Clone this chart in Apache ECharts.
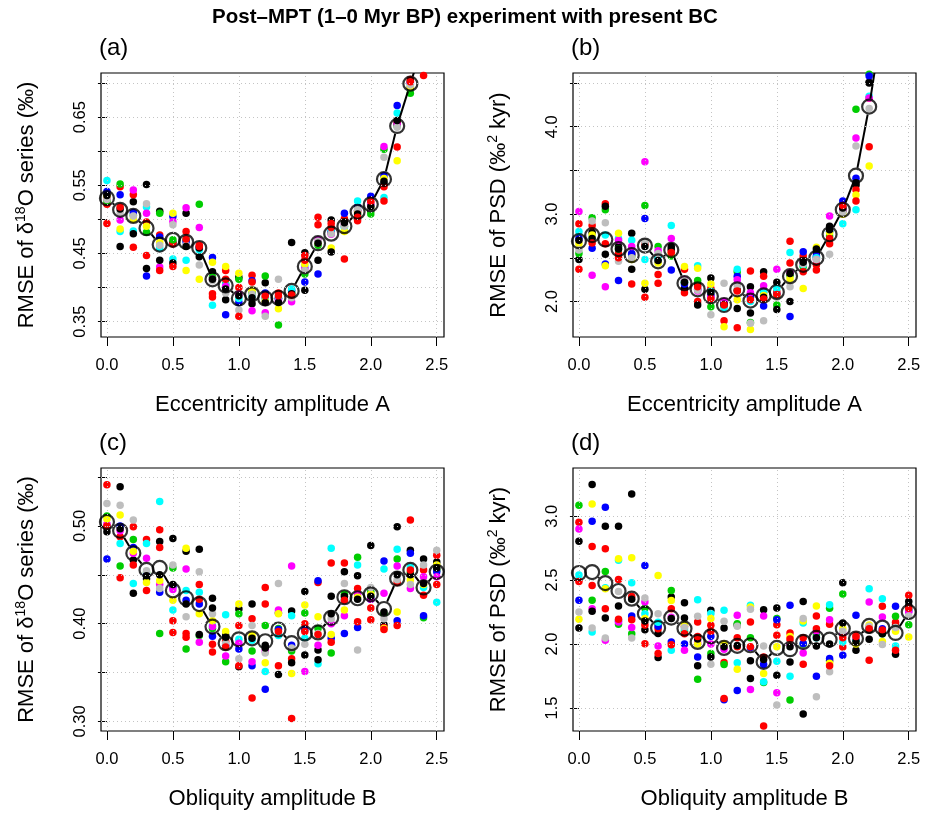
<!DOCTYPE html>
<html><head><meta charset="utf-8">
<script src="https://cdn.jsdelivr.net/npm/echarts@6/dist/echarts.min.js"></script>
<style>html,body{margin:0;padding:0;background:#fff}#c{width:930px;height:816px}</style>
</head><body><div id="c"></div>
<script>
// ---------------- data ----------------
const amplitudes = [0.0,0.1,0.2,0.3,0.4,0.5,0.6,0.7,0.8,0.9,1.0,1.1,1.2,1.3,1.4,1.5,1.6,1.7,1.8,1.9,2.0,2.1,2.2,2.3,2.4,2.5];
const xTicks = [0,0.5,1.0,1.5,2.0,2.5];

// Panel (a): RMSE of d18O series vs eccentricity amplitude
const aBlack1 = [0.537,0.460,0.526,0.551,0.512,0.466,0.509,0.445,0.423,0.382,0.415,0.376,0.407,0.384,0.466,0.451,0.440,0.499,0.497,0.513,0.513,0.552,0.640,0.693,0.77,0.85];
const aRed1   = [0.522,0.548,0.536,0.496,0.477,0.464,0.482,0.462,0.391,0.425,0.400,0.418,0.385,0.392,0.389,0.447,0.503,0.494,0.501,0.498,0.524,0.548,0.643,0.705,0.711,0.84];
const aGreen  = [0.527,0.552,0.506,0.481,0.509,0.470,0.470,0.522,0.415,0.405,0.412,0.392,0.417,0.345,0.393,0.420,0.462,0.480,0.490,0.505,0.508,0.603,0.637,0.685,0.76,0.83];
const aBlue   = [0.541,0.536,0.510,0.417,0.474,0.504,0.467,0.458,0.444,0.360,0.378,0.410,0.392,0.384,0.396,0.408,0.420,0.482,0.509,0.518,0.534,0.564,0.667,0.700,0.78,0.86];
const aCyan   = [0.557,0.482,0.483,0.518,0.458,0.442,0.440,0.455,0.374,0.404,0.384,0.388,0.384,0.386,0.398,0.430,0.465,0.485,0.488,0.527,0.520,0.532,0.656,0.698,0.76,0.84];
const aMagenta= [0.531,0.499,0.543,0.509,0.430,0.497,0.517,0.488,0.412,0.402,0.390,0.366,0.363,0.380,0.379,0.428,0.470,0.478,0.492,0.512,0.521,0.607,0.640,0.700,0.77,0.85];
const aYellow = [0.533,0.486,0.500,0.490,0.466,0.509,0.425,0.412,0.437,0.431,0.421,0.396,0.380,0.369,0.388,0.434,0.465,0.458,0.482,0.510,0.517,0.560,0.586,0.695,0.74,0.82];
const aGray   = [0.529,0.510,0.505,0.523,0.462,0.492,0.462,0.433,0.410,0.392,0.367,0.390,0.358,0.412,0.385,0.425,0.468,0.479,0.490,0.515,0.516,0.591,0.635,0.697,0.76,0.84];
const aBlack2 = [0.535,0.515,0.479,0.428,0.440,0.436,0.460,0.458,0.412,0.398,0.388,0.385,0.378,0.378,0.391,0.396,0.465,0.452,0.495,0.508,0.519,0.556,0.645,0.703,0.77,0.85];
const aRed2   = [0.494,0.518,0.459,0.447,0.425,0.431,0.471,0.460,0.386,0.412,0.358,0.408,0.388,0.388,0.389,0.440,0.492,0.488,0.442,0.503,0.527,0.527,0.606,0.702,0.75,0.83];
const aMean   = [0.531,0.514,0.505,0.487,0.463,0.470,0.467,0.458,0.412,0.403,0.384,0.390,0.384,0.385,0.395,0.431,0.465,0.479,0.490,0.511,0.522,0.559,0.637,0.699,0.76,0.84];
const aYTicks = [0.35,0.40,0.45,0.50,0.55,0.60,0.65,0.70];
const aYLabels = [0.35,0.45,0.55,0.65];

// Panel (b): RMSE of PSD vs eccentricity amplitude
const bBlack1 = [2.48,2.79,2.54,2.63,2.78,2.14,2.50,2.63,2.15,2.19,2.27,1.95,2.13,2.17,2.34,2.22,2.00,2.47,2.56,2.86,3.05,3.33,4.51,5.3,6.4,7.6];
const bRed1   = [2.89,2.87,3.12,2.55,2.54,2.66,2.31,2.58,2.37,2.00,2.15,1.78,1.70,2.35,2.29,2.11,2.69,2.52,2.42,2.66,3.08,3.28,4.33,5.1,6.2,7.4];
const bGreen  = [2.55,2.96,3.05,2.60,2.52,3.10,2.63,2.52,2.22,2.24,1.94,1.99,2.34,1.76,2.10,1.96,2.30,2.40,2.50,2.75,3.03,4.20,4.60,5.4,6.5,7.7];
const bBlue   = [2.72,2.61,2.43,2.24,2.55,2.95,2.46,2.36,2.20,2.14,2.07,1.98,2.29,2.05,1.95,2.08,1.83,2.57,2.52,2.80,3.15,3.41,4.58,5.3,6.3,7.5];
const bCyan   = [2.80,2.74,2.76,2.72,2.70,2.48,2.49,2.87,2.23,2.41,2.12,1.93,2.37,2.00,2.12,2.15,2.56,2.42,2.50,2.80,2.89,3.05,4.35,5.1,6.2,7.4];
const bMagenta= [3.03,2.30,2.17,2.70,2.63,3.60,2.58,2.72,2.25,2.12,2.05,2.00,2.25,2.10,2.18,2.37,2.33,2.44,2.48,2.98,3.04,3.87,4.33,5.2,6.3,7.5];
const bYellow = [2.66,2.76,2.41,2.78,2.48,2.21,2.44,2.55,2.40,2.38,2.20,1.71,2.02,1.68,2.07,2.06,2.26,2.15,2.62,2.79,3.00,3.22,3.55,4.8,5.9,7.0];
const bGray   = [2.59,2.92,2.90,2.46,2.50,2.68,2.55,2.58,2.24,2.13,1.85,2.21,2.18,1.75,1.78,2.05,2.17,2.43,2.48,2.54,3.02,3.78,4.21,5.2,6.3,7.5];
const bBlack2 = [2.70,2.72,3.09,2.60,2.37,2.63,2.47,2.60,2.22,1.96,2.10,1.97,1.92,1.87,2.05,1.91,2.32,2.45,2.60,2.82,3.07,3.36,4.50,5.3,6.4,7.6];
const bRed2   = [2.37,2.67,2.66,2.50,2.20,2.05,2.21,2.56,2.10,2.17,2.03,1.96,2.12,2.02,2.03,2.08,2.44,2.34,2.36,2.72,3.10,3.15,3.77,5.0,6.1,7.2];
const bMean   = [2.69,2.76,2.71,2.60,2.53,2.64,2.46,2.59,2.21,2.14,2.06,1.96,2.14,2.01,2.07,2.11,2.29,2.42,2.50,2.77,3.05,3.44,4.23,5.2,6.3,7.5];
const bYTicks = [2.0,2.5,3.0,3.5,4.0,4.5];
const bYLabels = [2.0,3.0,4.0];

// Panel (c): RMSE of d18O series vs obliquity amplitude
const cBlack1 = [0.494,0.540,0.465,0.446,0.484,0.487,0.474,0.476,0.426,0.388,0.415,0.420,0.378,0.411,0.413,0.433,0.373,0.428,0.453,0.449,0.480,0.399,0.499,0.475,0.466,0.463];
const cRed1   = [0.542,0.489,0.499,0.486,0.496,0.403,0.390,0.440,0.379,0.382,0.398,0.405,0.437,0.357,0.364,0.400,0.442,0.462,0.462,0.436,0.416,0.396,0.442,0.506,0.455,0.470];
const cGreen  = [0.510,0.459,0.486,0.452,0.390,0.457,0.374,0.388,0.395,0.361,0.410,0.372,0.398,0.395,0.372,0.411,0.395,0.370,0.430,0.468,0.433,0.410,0.466,0.452,0.406,0.455];
const cBlue   = [0.466,0.500,0.478,0.450,0.432,0.438,0.424,0.420,0.387,0.378,0.374,0.357,0.333,0.394,0.378,0.394,0.444,0.385,0.390,0.396,0.425,0.464,0.403,0.472,0.408,0.453];
const cCyan   = [0.500,0.482,0.441,0.482,0.525,0.414,0.434,0.432,0.398,0.409,0.384,0.383,0.351,0.388,0.408,0.385,0.359,0.477,0.425,0.460,0.428,0.456,0.476,0.458,0.437,0.422];
const cMagenta= [0.502,0.495,0.472,0.467,0.440,0.435,0.456,0.381,0.397,0.367,0.380,0.361,0.372,0.414,0.459,0.351,0.378,0.400,0.408,0.430,0.425,0.431,0.459,0.436,0.448,0.448];
const cYellow = [0.507,0.511,0.474,0.442,0.444,0.424,0.477,0.410,0.403,0.392,0.420,0.388,0.360,0.410,0.349,0.419,0.407,0.389,0.414,0.427,0.430,0.395,0.412,0.445,0.440,0.460];
const cGray   = [0.523,0.521,0.506,0.454,0.436,0.460,0.407,0.453,0.410,0.380,0.364,0.398,0.370,0.441,0.375,0.379,0.390,0.405,0.441,0.373,0.437,0.405,0.445,0.440,0.460,0.475];
const cBlack2 = [0.498,0.497,0.431,0.449,0.450,0.440,0.420,0.389,0.416,0.386,0.356,0.385,0.375,0.348,0.360,0.368,0.363,0.410,0.428,0.425,0.428,0.412,0.450,0.450,0.441,0.457];
const cRed2   = [0.500,0.447,0.460,0.434,0.478,0.391,0.386,0.425,0.371,0.376,0.357,0.324,0.420,0.392,0.303,0.392,0.389,0.381,0.424,0.402,0.404,0.394,0.398,0.455,0.429,0.440];
const cMean   = [0.504,0.495,0.472,0.455,0.457,0.434,0.426,0.420,0.397,0.380,0.384,0.385,0.382,0.394,0.380,0.390,0.391,0.406,0.427,0.426,0.430,0.415,0.446,0.455,0.437,0.453];
const cYTicks = [0.30,0.35,0.40,0.45,0.50,0.55];
const cYLabels = [0.30,0.40,0.50];

// Panel (d): RMSE of PSD vs obliquity amplitude
const dBlack1 = [2.804,3.247,2.922,2.922,3.173,2.113,2.082,2.368,2.324,1.830,2.264,2.126,2.150,1.869,2.269,2.282,1.861,2.334,1.986,1.869,2.480,1.952,2.110,2.100,2.150,2.334];
const dRed1   = [2.952,2.763,2.745,2.506,2.373,2.150,2.120,2.277,2.140,2.173,2.147,1.856,1.980,2.173,1.900,2.152,2.087,1.843,2.220,2.155,1.978,2.069,1.874,2.295,2.170,2.381];
const dGreen  = [3.085,2.342,2.568,2.155,2.080,2.280,2.160,2.420,2.100,1.726,1.926,1.840,2.160,2.050,1.700,2.200,1.562,2.000,2.074,2.280,2.391,2.040,2.120,2.080,2.217,2.152];
const dBlue   = [2.342,2.960,3.070,2.180,2.220,2.615,2.140,2.017,2.000,1.900,2.061,1.565,1.637,1.973,1.840,2.190,2.303,2.004,1.749,1.887,1.913,2.225,2.130,2.120,2.295,2.260];
const dCyan   = [2.540,2.095,2.440,2.655,2.480,2.238,2.170,1.952,2.120,2.347,2.240,2.264,1.855,2.303,1.705,1.866,1.749,2.165,2.050,2.308,2.017,2.030,2.433,2.355,1.986,2.270];
const dMagenta= [2.900,2.277,2.030,2.173,2.129,2.329,1.985,2.210,1.952,2.010,2.000,1.960,2.225,1.645,2.220,1.619,2.000,1.930,2.100,2.191,2.080,2.050,2.329,2.212,2.120,2.250];
const dYellow = [2.194,3.096,2.433,2.667,2.675,2.200,2.537,2.340,2.150,2.000,2.200,2.000,1.803,2.290,1.770,1.980,2.060,2.180,2.298,1.850,2.120,2.000,2.150,2.020,2.100,2.056];
const dGray   = [2.251,2.126,2.048,2.412,2.048,2.360,2.238,2.200,2.130,2.217,1.843,2.178,2.140,2.272,1.986,1.523,2.020,2.200,1.588,1.783,2.100,2.060,2.140,1.996,2.130,2.220];
const dBlack2 = [2.126,2.256,2.204,2.298,2.350,2.180,1.895,2.200,2.204,2.040,1.900,1.980,1.990,1.731,1.880,1.757,1.980,1.453,2.050,2.000,2.165,2.020,2.037,2.080,1.921,2.300];
const dRed2   = [2.490,2.459,2.277,2.194,2.190,2.003,1.926,1.995,2.080,2.060,2.100,1.575,2.050,1.980,1.359,2.070,2.040,2.050,2.120,1.830,2.050,2.060,2.120,2.110,1.952,2.280];
const dMean   = [2.556,2.563,2.477,2.415,2.355,2.238,2.126,2.207,2.121,2.017,2.061,1.970,1.986,1.991,1.861,1.970,1.960,2.017,2.048,2.035,2.121,2.043,2.142,2.129,2.087,2.251];
const dYTicks = [1.5,2.0,2.5,3.0];
const dYLabels = [1.5,2.0,2.5,3.0];

const runColors = ['#000000','#FF0000','#00CD00','#0000FF','#00FFFF','#FF00FF','#FFFF00','#BEBEBE','#000000','#FF0000'];

// ---------------- chart ----------------
const FONT = '"Liberation Sans", Arial, Helvetica, sans-serif';
const d18Name = 'RMSE of δ{sup|18}O series (‰)';
const psdName = 'RMSE of PSD (‰{sup|2} kyr)';
const panels = [
  {tag:'(a)', runs:[aBlack1,aRed1,aGreen,aBlue,aCyan,aMagenta,aYellow,aGray,aBlack2,aRed2], mean:aMean,
   yMin:0.3274, yMax:0.7147, yTicks:aYTicks, yLabels:aYLabels, dec:2, xName:'Eccentricity amplitude A', yName:d18Name,
   left:101, top:73, width:343, height:264},
  {tag:'(b)', runs:[bBlack1,bRed1,bGreen,bBlue,bCyan,bMagenta,bYellow,bGray,bBlack2,bRed2], mean:bMean,
   yMin:1.594, yMax:4.615, yTicks:bYTicks, yLabels:bYLabels, dec:1, xName:'Eccentricity amplitude A', yName:psdName,
   left:573, top:73, width:343, height:264},
  {tag:'(c)', runs:[cBlack1,cRed1,cGreen,cBlue,cCyan,cMagenta,cYellow,cGray,cBlack2,cRed2], mean:cMean,
   yMin:0.2902, yMax:0.5592, yTicks:cYTicks, yLabels:cYLabels, dec:2, xName:'Obliquity amplitude B', yName:d18Name,
   left:101, top:468, width:343, height:263},
  {tag:'(d)', runs:[dBlack1,dRed1,dGreen,dBlue,dCyan,dMagenta,dYellow,dGray,dBlack2,dRed2], mean:dMean,
   yMin:1.3206, yMax:3.3768, yTicks:dYTicks, yLabels:dYLabels, dec:1, xName:'Obliquity amplitude B', yName:psdName,
   left:573, top:468, width:343, height:263}
];

const grids = [], xAxes = [], yAxes = [], series = [], graphics = [];
graphics.push({type:'text', x:465, y:17, style:{text:'Post–MPT (1–0 Myr BP) experiment with present BC', fill:'#000',
  font:'bold 20.5px "Liberation Sans", Arial, sans-serif', align:'center', verticalAlign:'middle'}});

panels.forEach((p, i) => {
  grids.push({left:p.left, top:p.top, width:p.width, height:p.height, show:true, borderColor:'#000', borderWidth:1.2, backgroundColor:'transparent', containLabel:false});
  graphics.push({type:'text', x:p.left - 2, y:p.top - 25, style:{text:p.tag, fill:'#000', font:'24px "Liberation Sans", Arial, sans-serif', align:'left', verticalAlign:'middle'}});
  xAxes.push({type:'value', gridIndex:i, min:-0.045, max:2.555,
    axisLine:{show:false},
    axisTick:{show:true, customValues:xTicks, length:9, lineStyle:{color:'#000', width:1}},
    axisLabel:{customValues:xTicks, formatter:v => v.toFixed(1), fontSize:16.5, color:'#000', margin:20, fontFamily:FONT},
    splitLine:{show:false},
    name:p.xName, nameLocation:'middle', nameGap:57, nameTextStyle:{fontSize:22, color:'#000', fontFamily:FONT}});
  yAxes.push({type:'value', gridIndex:i, min:p.yMin, max:p.yMax,
    axisLine:{show:false},
    axisTick:{show:true, customValues:p.yTicks, length:9, lineStyle:{color:'#000', width:1}},
    axisLabel:{customValues:p.yLabels, formatter:v => v.toFixed(p.dec), rotate:90, fontSize:16.5, color:'#000', margin:12, fontFamily:FONT},
    splitLine:{show:false},
    name:p.yName, nameLocation:'middle', nameRotate:90, nameGap:61,
    nameTextStyle:{fontSize:22, color:'#000', fontFamily:FONT, lineHeight:26,
      rich:{sup:{fontSize:14, fontFamily:FONT, color:'#000', verticalAlign:'top', lineHeight:26}}}});
  // dotted reference grid
  series.push({type:'line', xAxisIndex:i, yAxisIndex:i, data:[], silent:true, z:1,
    markLine:{silent:true, animation:false, symbol:['none','none'], label:{show:false},
      lineStyle:{color:'#c4c4c4', type:[1,3], width:1},
      emphasis:{disabled:true},
      data:[...xTicks.map(v => ({xAxis:v})), ...p.yTicks.map(v => ({yAxis:v}))]}});
  // individual runs
  p.runs.forEach((arr, r) => {
    series.push({type:'scatter', xAxisIndex:i, yAxisIndex:i, silent:true, clip:true, z:2,
      data:amplitudes.map((x, k) => [x, arr[k]]), symbol:'circle', symbolSize:7.5,
      itemStyle:{color:runColors[r], opacity:1, borderWidth:0, borderColor:runColors[r]},
      emphasis:{disabled:true}});
  });
  // mean line (with gaps around the open circles)
  const segs = amplitudes.slice(0, -1).map((x, k) => [x, p.mean[k], amplitudes[k + 1], p.mean[k + 1]]);
  series.push({type:'custom', xAxisIndex:i, yAxisIndex:i, silent:true, clip:true, z:3, data:segs,
    renderItem:(params, api) => {
      const a = api.coord([api.value(0), api.value(1)]);
      const b = api.coord([api.value(2), api.value(3)]);
      const dx = b[0] - a[0], dy = b[1] - a[1];
      const d = Math.hypot(dx, dy), g = 8;
      if (d <= 2 * g) return null;
      const ux = dx / d, uy = dy / d;
      return {type:'line', shape:{x1:a[0] + ux * g, y1:a[1] + uy * g, x2:b[0] - ux * g, y2:b[1] - uy * g},
        style:{stroke:'#000', lineWidth:2}};
    }});
  // mean open circles
  series.push({type:'scatter', xAxisIndex:i, yAxisIndex:i, silent:true, clip:true, z:4,
    data:amplitudes.map((x, k) => [x, p.mean[k]]), symbol:'circle', symbolSize:14,
    itemStyle:{color:'rgba(0,0,0,0)', borderColor:'#000', borderWidth:2.2}, emphasis:{disabled:true}});
});

const chart = echarts.init(document.getElementById('c'));
chart.setOption({
  animation:false,
  backgroundColor:'#fff',
  textStyle:{fontFamily:FONT},
  grid:grids, xAxis:xAxes, yAxis:yAxes, series:series, graphic:graphics
});
</script>
</body></html>
